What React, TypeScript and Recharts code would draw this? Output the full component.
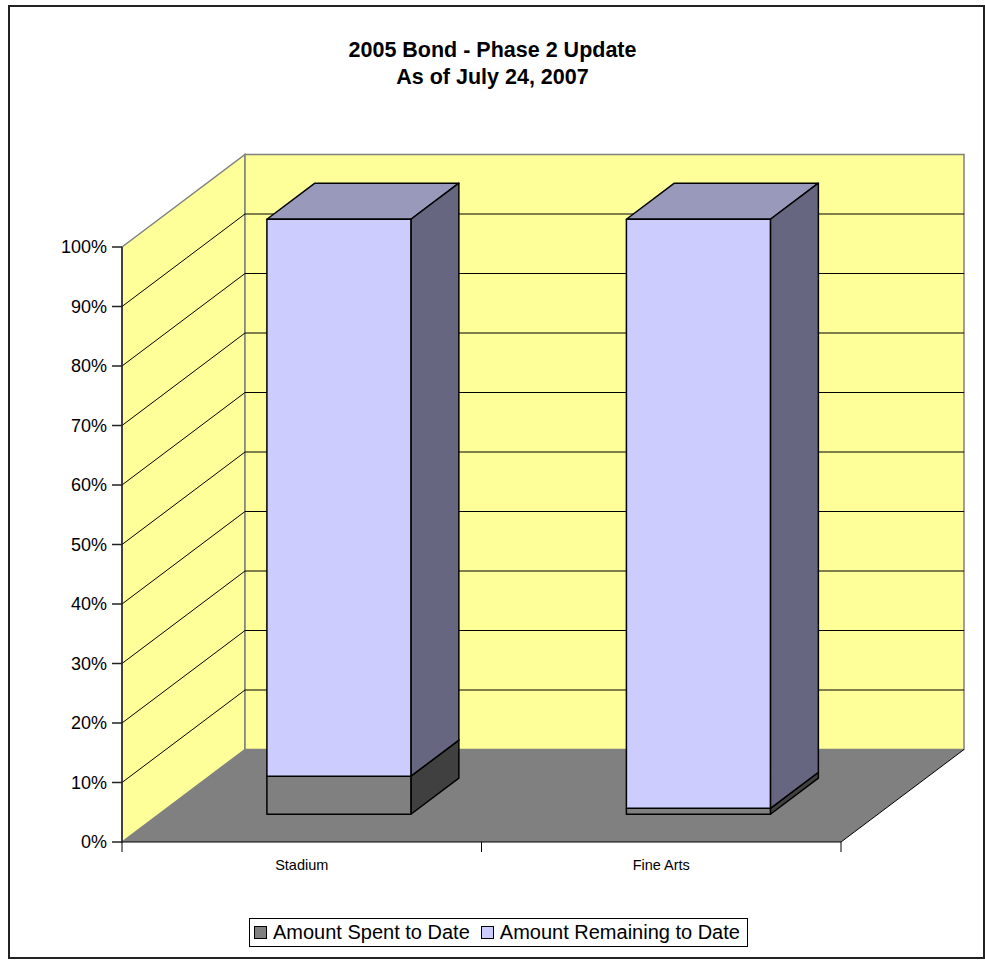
import { BarChart, Bar, XAxis, YAxis, CartesianGrid } from "recharts";

const categories = ["Stadium", "Fine Arts"];
const spentToDate = [6.4, 1.0];
const remainingToDate = [93.6, 99.0];
const percentTicks = [0, 0.1, 0.2, 0.3, 0.4, 0.5, 0.6, 0.7, 0.8, 0.9, 1];

const seriesInfo = [
  { key: "spent", name: "Amount Spent to Date", front: "#808080", side: "#404040", top: "#606060" },
  { key: "remaining", name: "Amount Remaining to Date", front: "#CCCCFF", side: "#666680", top: "#9999BB" },
];

const data = categories.map((name, i) => ({
  name,
  spent: spentToDate[i],
  remaining: remainingToDate[i],
}));

// 3d look: offset from front plane to back wall
const DEPTH_X = 123;
const DEPTH_Y = -92.5;
const BAR_FRONT = 0.3;
const BAR_BACK = 0.69;
const FONT = "'Liberation Sans', Arial, sans-serif";

function Box3D(props: any) {
  const { x, y, width, height, front, side, top } = props;
  const fx = x + DEPTH_X * BAR_FRONT;
  const fy = y + DEPTH_Y * BAR_FRONT;
  const dx = DEPTH_X * (BAR_BACK - BAR_FRONT);
  const dy = DEPTH_Y * (BAR_BACK - BAR_FRONT);
  const r = fx + width;
  const b = fy + height;
  return (
    <g stroke="#000" strokeWidth={1.5} strokeLinejoin="round">
      <polygon points={`${fx},${fy} ${fx + dx},${fy + dy} ${r + dx},${fy + dy} ${r},${fy}`} fill={top} />
      <polygon points={`${r},${fy} ${r + dx},${fy + dy} ${r + dx},${b + dy} ${r},${b}`} fill={side} />
      <rect x={fx} y={fy} width={width} height={height} fill={front} />
    </g>
  );
}

function WallLine(props: any) {
  const { x1, x2, y1, index, y, height } = props;
  const bottom = y + height;
  const left = x1;
  const right = x2;
  const isEdge = Math.abs(y1 - bottom) < 1 || Math.abs(y1 - y) < 1;
  return (
    <g key={`wall-${index}`}>
      {index === 0 && (
        <g>
          <polygon
            points={`${left},${y} ${left + DEPTH_X},${y + DEPTH_Y} ${left + DEPTH_X},${bottom + DEPTH_Y} ${left},${bottom}`}
            fill="#FFFF99"
            stroke="#808080"
            strokeWidth={1.5}
          />
          <rect
            x={left + DEPTH_X}
            y={y + DEPTH_Y}
            width={right - left}
            height={height}
            fill="#FFFF99"
            stroke="#808080"
            strokeWidth={1.5}
          />
          <polygon
            points={`${left},${bottom} ${left + DEPTH_X},${bottom + DEPTH_Y} ${right + DEPTH_X},${bottom + DEPTH_Y} ${right},${bottom}`}
            fill="#808080"
          />
          <line x1={right} y1={bottom} x2={right + DEPTH_X} y2={bottom + DEPTH_Y} stroke="#000" strokeWidth={1} />
        </g>
      )}
      {!isEdge && (
        <g stroke="#000" strokeWidth={1}>
          <line x1={left} y1={y1} x2={left + DEPTH_X} y2={y1 + DEPTH_Y} />
          <line x1={left + DEPTH_X} y1={y1 + DEPTH_Y} x2={right + DEPTH_X} y2={y1 + DEPTH_Y} />
        </g>
      )}
    </g>
  );
}

function CategoryTick(props: any) {
  const { x, y, payload } = props;
  const half = payload.offset ?? 179.5;
  return (
    <g>
      <line x1={x - half} y1={y} x2={x - half} y2={y + 10} stroke="#000" strokeWidth={1} />
      <line x1={x + half} y1={y} x2={x + half} y2={y + 10} stroke="#000" strokeWidth={1} />
      <text x={x} y={y + 28} textAnchor="middle" fontSize={14.5} fontFamily={FONT} fill="#000">
        {payload.value}
      </text>
    </g>
  );
}

export default function App() {
  return (
    <div style={{ position: "absolute", left: 0, top: 0, width: 985, height: 960, background: "#fff" }}>
      <div
        style={{
          position: "absolute",
          left: 8,
          top: 5,
          width: 977,
          height: 954,
          boxSizing: "border-box",
          border: "2px solid #222",
        }}
      />
      <div
        style={{
          position: "absolute",
          left: 0,
          top: 37,
          width: 985,
          textAlign: "center",
          fontFamily: FONT,
          fontWeight: "bold",
          fontSize: 21.5,
          lineHeight: "27px",
          color: "#000",
        }}
      >
        <div>2005 Bond - Phase 2 Update</div>
        <div>As of July 24, 2007</div>
      </div>
      <div style={{ position: "absolute", left: 0, top: 0 }}>
        <BarChart
          width={985}
          height={960}
          data={data}
          stackOffset="expand"
          barSize={144}
          margin={{ top: 247, right: 144, bottom: 78, left: 62 }}
        >
          <CartesianGrid vertical={false} horizontal={(p: any) => <WallLine {...p} />} />
          <XAxis
            dataKey="name"
            height={40}
            tickSize={0}
            tickMargin={0}
            tickLine={false}
            axisLine={{ stroke: "#000", strokeWidth: 1 }}
            tick={<CategoryTick />}
            interval={0}
          />
          <YAxis
            width={60}
            domain={[0, 1]}
            ticks={percentTicks}
            tickSize={10}
            tickMargin={5}
            tickFormatter={(v: number) => `${Math.round(v * 100)}%`}
            axisLine={{ stroke: "#222", strokeWidth: 1.5 }}
            tickLine={{ stroke: "#222", strokeWidth: 1.5 }}
            tick={{ fill: "#000", fontSize: 18, fontFamily: FONT }}
          />
          {seriesInfo.map((s) => (
            <Bar
              key={s.key}
              dataKey={s.key}
              name={s.name}
              stackId="a"
              isAnimationActive={false}
              shape={(p: any) => <Box3D {...p} front={s.front} side={s.side} top={s.top} />}
            />
          ))}
        </BarChart>
      </div>
      <div
        style={{
          position: "absolute",
          left: 249,
          top: 918,
          width: 499,
          height: 29,
          boxSizing: "border-box",
          border: "1px solid #000",
          display: "flex",
          alignItems: "center",
          paddingLeft: 4,
          fontFamily: FONT,
          fontSize: 20,
          color: "#000",
          whiteSpace: "nowrap",
        }}
      >
        {seriesInfo.map((s) => (
          <span key={s.key} style={{ display: "inline-flex", alignItems: "center", marginRight: 11 }}>
            <span
              style={{
                display: "inline-block",
                width: 11,
                height: 11,
                background: s.front,
                border: "1px solid #000",
                marginRight: 6,
              }}
            />
            {s.name}
          </span>
        ))}
      </div>
    </div>
  );
}
